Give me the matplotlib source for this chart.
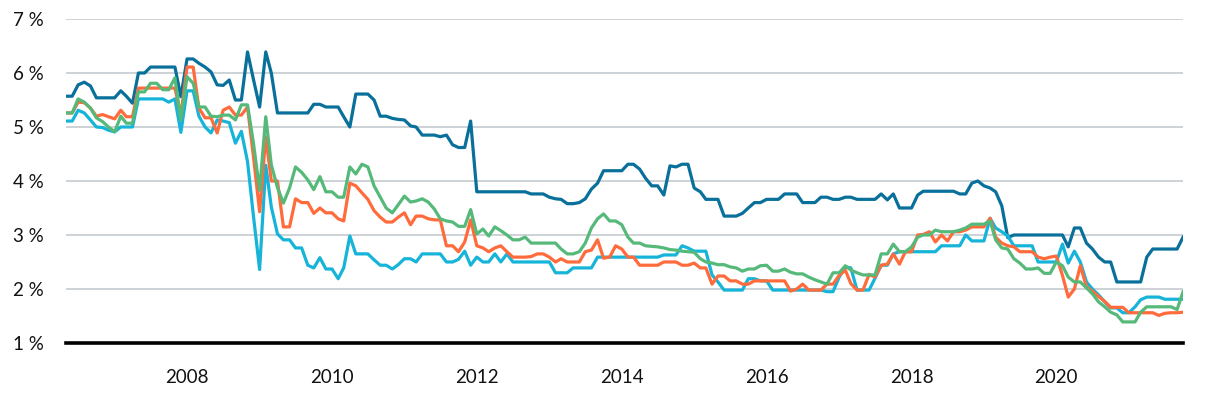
import matplotlib
matplotlib.use("Agg")
import matplotlib.pyplot as plt
import matplotlib.dates as mdates
import pandas as pd

plt.rcParams['font.family'] = ['Lato', 'DejaVu Sans']

# monthly observations, May 2006 .. Oct 2021
months = pd.date_range("2006-05-01", "2021-10-01", freq="MS")

dark_blue = [
    5.57, 5.57, 5.78, 5.83, 5.76, 5.54, 5.54, 5.54,
    5.54, 5.67, 5.57, 5.44, 6.0, 6.0, 6.11, 6.11, 6.11, 6.11, 6.11, 5.56,
    6.26, 6.26, 6.18, 6.11, 6.02, 5.78, 5.77, 5.87, 5.5, 5.5, 6.39, 5.88,
    5.37, 6.39, 6.0, 5.26, 5.26, 5.26, 5.26, 5.26, 5.26, 5.42, 5.42, 5.37,
    5.37, 5.37, 5.19, 5.0, 5.61, 5.61, 5.61, 5.5, 5.2, 5.2, 5.16, 5.14,
    5.13, 5.02, 5.0, 4.85, 4.85, 4.85, 4.82, 4.85, 4.67, 4.62, 4.62, 5.11,
    3.8, 3.8, 3.8, 3.8, 3.8, 3.8, 3.8, 3.8, 3.8, 3.76, 3.76, 3.76,
    3.7, 3.67, 3.66, 3.58, 3.58, 3.6, 3.67, 3.85, 3.96, 4.19, 4.19, 4.19,
    4.19, 4.31, 4.31, 4.22, 4.05, 3.91, 3.91, 3.74, 4.28, 4.26, 4.31, 4.31,
    3.87, 3.8, 3.66, 3.66, 3.66, 3.35, 3.35, 3.35, 3.4, 3.5, 3.6, 3.6,
    3.66, 3.66, 3.66, 3.76, 3.76, 3.76, 3.6, 3.6, 3.6, 3.7, 3.7, 3.66,
    3.66, 3.7, 3.7, 3.66, 3.66, 3.66, 3.66, 3.76, 3.65, 3.76, 3.5, 3.5,
    3.5, 3.74, 3.81, 3.81, 3.81, 3.81, 3.81, 3.81, 3.76, 3.76, 3.96, 4.0,
    3.91, 3.87, 3.8, 3.54, 2.95, 3.0, 3.0, 3.0, 3.0, 3.0, 3.0, 3.0,
    3.0, 3.0, 2.78, 3.13, 3.13, 2.85, 2.74, 2.59, 2.5, 2.5, 2.13, 2.13,
    2.13, 2.13, 2.13, 2.59, 2.74, 2.74, 2.74, 2.74, 2.74, 2.96,
]

orange = [
    5.26, 5.26, 5.46, 5.45, 5.35, 5.2, 5.23, 5.19,
    5.15, 5.31, 5.19, 5.19, 5.72, 5.72, 5.72, 5.72, 5.72, 5.72, 5.72, 5.22,
    6.11, 6.11, 5.35, 5.17, 5.17, 4.89, 5.31, 5.37, 5.22, 5.22, 5.37, 4.45,
    3.43, 4.82, 4.0, 4.0, 3.15, 3.15, 3.67, 3.6, 3.6, 3.4, 3.5, 3.41,
    3.41, 3.3, 3.26, 3.96, 3.91, 3.78, 3.66, 3.45, 3.33, 3.24, 3.24, 3.33,
    3.41, 3.19, 3.35, 3.35, 3.3, 3.28, 3.28, 2.8, 2.8, 2.69, 2.87, 3.28,
    2.8, 2.76, 2.69, 2.76, 2.8, 2.69, 2.59, 2.59, 2.59, 2.6, 2.65, 2.65,
    2.59, 2.5, 2.56, 2.5, 2.5, 2.5, 2.69, 2.72, 2.91, 2.57, 2.59, 2.8,
    2.74, 2.59, 2.59, 2.44, 2.44, 2.44, 2.44, 2.5, 2.5, 2.5, 2.44, 2.44,
    2.48, 2.39, 2.39, 2.09, 2.24, 2.24, 2.15, 2.15, 2.09, 2.09, 2.15, 2.15,
    2.15, 2.15, 2.15, 2.15, 1.96, 2.0, 2.09, 1.98, 1.98, 1.98, 2.09, 2.09,
    2.25, 2.35, 2.1, 1.98, 1.98, 2.27, 2.22, 2.44, 2.46, 2.65, 2.46, 2.69,
    2.69, 3.0, 3.01, 3.06, 2.87, 3.0, 2.89, 3.06, 3.06, 3.09, 3.15, 3.15,
    3.15, 3.31, 2.96, 2.85, 2.8, 2.78, 2.69, 2.69, 2.69, 2.59, 2.56, 2.59,
    2.61, 2.25, 1.85, 2.0, 2.43, 2.04, 1.96, 1.86, 1.77, 1.66, 1.66, 1.66,
    1.56, 1.56, 1.56, 1.56, 1.56, 1.51, 1.55, 1.56, 1.56, 1.57,
]

green = [
    5.26, 5.26, 5.52, 5.46, 5.35, 5.17, 5.1, 5.0,
    4.91, 5.2, 5.07, 5.07, 5.65, 5.65, 5.81, 5.81, 5.69, 5.69, 5.91, 5.13,
    5.93, 5.81, 5.37, 5.37, 5.2, 5.19, 5.22, 5.22, 5.13, 5.41, 5.41, 4.7,
    3.83, 5.19, 4.3, 3.88, 3.59, 3.87, 4.26, 4.16, 4.02, 3.84, 4.08, 3.8,
    3.8, 3.7, 3.7, 4.26, 4.13, 4.31, 4.26, 3.91, 3.7, 3.5, 3.41, 3.56,
    3.72, 3.61, 3.63, 3.67, 3.61, 3.48, 3.3, 3.26, 3.24, 3.16, 3.16, 3.47,
    3.02, 3.11, 2.98, 3.15, 3.08, 3.0, 2.91, 2.91, 2.96, 2.85, 2.85, 2.85,
    2.85, 2.85, 2.74, 2.65, 2.65, 2.69, 2.85, 3.13, 3.3, 3.39, 3.26, 3.26,
    3.19, 2.96, 2.85, 2.85, 2.8, 2.79, 2.78, 2.76, 2.73, 2.72, 2.7, 2.69,
    2.68, 2.56, 2.5, 2.48, 2.45, 2.45, 2.41, 2.39, 2.33, 2.37, 2.37, 2.43,
    2.44, 2.33, 2.33, 2.37, 2.31, 2.28, 2.28, 2.22, 2.17, 2.13, 2.09, 2.3,
    2.3, 2.43, 2.35, 2.3, 2.26, 2.26, 2.26, 2.65, 2.65, 2.83, 2.69, 2.69,
    2.78, 2.96, 3.0, 3.0, 3.09, 3.06, 3.06, 3.06, 3.09, 3.13, 3.2, 3.2,
    3.2, 3.26, 2.91, 2.76, 2.74, 2.56, 2.48, 2.37, 2.37, 2.39, 2.29, 2.29,
    2.5, 2.43, 2.22, 2.13, 2.13, 2.02, 1.91, 1.76, 1.67, 1.57, 1.52, 1.39,
    1.39, 1.39, 1.57, 1.67, 1.67, 1.67, 1.67, 1.67, 1.62, 1.95,
]

cyan = [
    5.11, 5.11, 5.31, 5.26, 5.13, 5.0, 4.99, 4.94,
    4.91, 5.0, 5.0, 5.0, 5.52, 5.52, 5.52, 5.52, 5.52, 5.46, 5.52, 4.9,
    5.67, 5.67, 5.2, 5.0, 4.89, 5.13, 5.11, 5.08, 4.7, 4.92, 4.36, 3.35,
    2.36, 4.29, 3.52, 3.02, 2.91, 2.91, 2.76, 2.76, 2.44, 2.39, 2.58, 2.37,
    2.37, 2.19, 2.39, 2.98, 2.65, 2.65, 2.65, 2.54, 2.44, 2.44, 2.37, 2.45,
    2.56, 2.56, 2.5, 2.65, 2.65, 2.65, 2.65, 2.5, 2.5, 2.55, 2.7, 2.44,
    2.59, 2.5, 2.5, 2.65, 2.5, 2.65, 2.5, 2.5, 2.5, 2.5, 2.5, 2.5,
    2.5, 2.3, 2.3, 2.3, 2.39, 2.39, 2.39, 2.39, 2.59, 2.59, 2.59, 2.59,
    2.59, 2.59, 2.59, 2.59, 2.59, 2.59, 2.59, 2.63, 2.63, 2.63, 2.8, 2.76,
    2.7, 2.7, 2.7, 2.26, 2.13, 1.98, 1.98, 1.98, 1.98, 2.19, 2.19, 2.15,
    2.15, 1.98, 1.98, 1.98, 1.98, 1.98, 1.98, 1.98, 1.98, 1.98, 1.95, 1.95,
    2.22, 2.41, 2.39, 1.98, 1.98, 1.98, 2.2, 2.44, 2.44, 2.65, 2.69, 2.69,
    2.69, 2.69, 2.69, 2.69, 2.69, 2.8, 2.8, 2.8, 2.8, 3.0, 2.89, 2.89,
    2.89, 3.31, 3.13, 3.06, 2.98, 2.8, 2.8, 2.8, 2.8, 2.5, 2.5, 2.5,
    2.5, 2.83, 2.48, 2.7, 2.5, 2.13, 2.0, 1.89, 1.76, 1.65, 1.65, 1.56,
    1.56, 1.67, 1.8, 1.85, 1.85, 1.85, 1.81, 1.81, 1.81, 1.81,
]

year_ticks = [2008, 2010, 2012, 2014, 2016, 2018, 2020]
y_ticks = [1, 2, 3, 4, 5, 6, 7]

fig = plt.figure(figsize=(12.05, 3.99), dpi=100)
ax = fig.add_axes([0.0548, 0.1404, 0.9270, 0.812])

ax.plot(months, dark_blue, color='#08709a', lw=2.3, zorder=3)
ax.plot(months, cyan, color='#16b4d9', lw=2.3, zorder=3)
ax.plot(months, orange, color='#ff6b3b', lw=2.3, zorder=3)
ax.plot(months, green, color='#55b97a', lw=2.3, zorder=3)

ax.set_xlim(months[0], months[-1])
ax.set_ylim(1, 7)
ax.set_yticks(y_ticks)
ax.set_yticklabels([f"{v} %" for v in y_ticks])
ax.set_xticks([pd.Timestamp(f"{y}-01-01") for y in year_ticks])
ax.xaxis.set_major_formatter(mdates.DateFormatter('%Y'))

ax.grid(axis='y', color='#cdd2d6', lw=1.4, zorder=1)
ax.axhline(1, color='black', lw=2.6, zorder=4, clip_on=False)

for s in ax.spines.values():
    s.set_visible(False)
ax.tick_params(axis='both', length=0, labelsize=13.5, colors='#111111')
ax.tick_params(axis='y', pad=16)
ax.tick_params(axis='x', pad=19)

fig.savefig("out.png", dpi=100)
